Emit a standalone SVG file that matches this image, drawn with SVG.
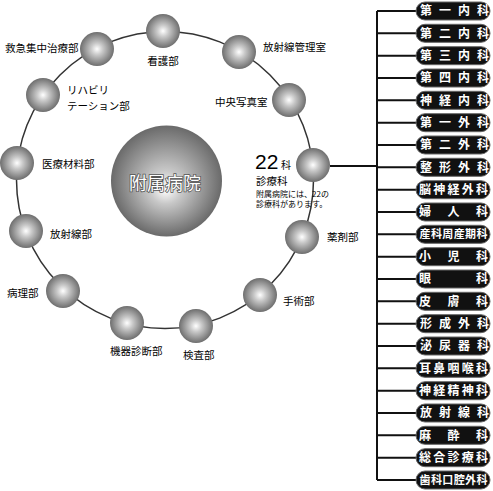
<svg xmlns="http://www.w3.org/2000/svg" width="493" height="491" viewBox="0 0 493 491">
<defs>
<radialGradient id="sph" cx="50%" cy="50%" r="50%" fx="50%" fy="50%">
<stop offset="0" stop-color="#ffffff"/>
<stop offset="0.35" stop-color="#c8c8c8"/>
<stop offset="1" stop-color="#6e6e6e"/>
</radialGradient>
<radialGradient id="big" cx="50%" cy="50%" r="50%" fx="49%" fy="58%">
<stop offset="0" stop-color="#ffffff"/>
<stop offset="0.3" stop-color="#c8c8c8"/>
<stop offset="1" stop-color="#6a6a6a"/>
</radialGradient>
</defs>
<style>
.lbl{font-family:"Noto Sans CJK JP","Liberation Sans",sans-serif;font-size:10.5px;fill:#000}
.sp{fill:url(#sph)}
.pill{fill:#111;stroke:#666;stroke-width:1}
.pt{font-family:"Noto Sans CJK JP","Liberation Sans",sans-serif;font-size:12px;font-weight:bold;fill:#fff;text-anchor:middle}
.pt6{font-size:11px}
.ln{stroke:#111;stroke-width:2;fill:none}
.ring{stroke:#333;stroke-width:1.5;fill:none}
</style>
<rect width="493" height="491" fill="#fff"/>
<g id="connectors">
<circle class="ring" cx="165" cy="180" r="148.5"/>
<line class="ln" x1="330" y1="166" x2="377" y2="166"/>
<line class="ln" x1="377" y1="11" x2="377" y2="480"/>
<path class="ln" d="M377 11H416M377 33.3H416M377 55.7H416M377 78H416M377 100.3H416M377 122.7H416M377 145H416M377 167.3H416M377 189.7H416M377 212H416M377 234.3H416M377 256.7H416M377 279H416M377 301.3H416M377 323.7H416M377 346H416M377 368.3H416M377 390.7H416M377 413H416M377 435.3H416M377 457.7H416M377 480H416"/>
</g>
<g id="hospital">
<circle cx="166.5" cy="181" r="55.5" fill="url(#big)"/>
<text x="165" y="189.5" text-anchor="middle" font-family="Noto Sans CJK JP, Liberation Sans, sans-serif" font-size="18" fill="#fff" stroke="#555" stroke-width="1.6" paint-order="stroke">附属病院</text>
</g>
<g id="n-kango"><circle class="sp" cx="163" cy="31" r="17"/><text class="lbl" x="163" y="65" text-anchor="middle">看護部</text></g>
<g id="n-kyukyu"><circle class="sp" cx="97" cy="49" r="17"/><text class="lbl" x="5" y="52">救急集中治療部</text></g>
<g id="n-reha"><circle class="sp" cx="43" cy="95" r="17"/><text class="lbl" x="67" y="94">リハビリ</text><text class="lbl" x="67" y="110">テーション部</text></g>
<g id="n-hoshakanri"><circle class="sp" cx="239" cy="52" r="17"/><text class="lbl" x="263" y="51">放射線管理室</text></g>
<g id="n-chuo"><circle class="sp" cx="289" cy="100" r="17"/><text class="lbl" x="215" y="106">中央写真室</text></g>
<g id="n-iryo"><circle class="sp" cx="17" cy="163" r="17"/><text class="lbl" x="42" y="168">医療材料部</text></g>
<g id="n-hosha"><circle class="sp" cx="26" cy="231" r="17"/><text class="lbl" x="50" y="238">放射線部</text></g>
<g id="n-22"><circle class="sp" cx="313" cy="165" r="17"/>
<text x="255" y="169" font-family="Liberation Sans, sans-serif" font-size="21" fill="#000">22</text>
<text class="lbl" x="281" y="169" style="font-size:10px">科</text>
<text class="lbl" x="256" y="185">診療科</text>
<text class="lbl" x="256" y="196.5" style="font-size:8px">附属病院には、22の</text>
<text class="lbl" x="256" y="206.5" style="font-size:8px">診療科があります。</text>
</g>
<g id="n-yakuzai"><circle class="sp" cx="302" cy="237" r="17"/><text class="lbl" x="327" y="241">薬剤部</text></g>
<g id="n-byori"><circle class="sp" cx="63" cy="291" r="17"/><text class="lbl" x="7" y="297">病理部</text></g>
<g id="n-kiki"><circle class="sp" cx="127" cy="323" r="17"/><text class="lbl" x="110" y="355">機器診断部</text></g>
<g id="n-shujutsu"><circle class="sp" cx="260" cy="295" r="17"/><text class="lbl" x="283" y="305">手術部</text></g>
<g id="n-kensa"><circle class="sp" cx="196" cy="326" r="17"/><text class="lbl" x="183" y="359">検査部</text></g>
<g id="d1"><rect class="pill" x="416" y="2" width="74" height="18" rx="9"/><text class="pt" x="426 445 464 483" y="15.3">第一内科</text></g>
<g id="d2"><rect class="pill" x="416" y="24.3" width="74" height="18" rx="9"/><text class="pt" x="426 445 464 483" y="37.6">第二内科</text></g>
<g id="d3"><rect class="pill" x="416" y="46.7" width="74" height="18" rx="9"/><text class="pt" x="426 445 464 483" y="60">第三内科</text></g>
<g id="d4"><rect class="pill" x="416" y="69" width="74" height="18" rx="9"/><text class="pt" x="426 445 464 483" y="82.3">第四内科</text></g>
<g id="d5"><rect class="pill" x="416" y="91.3" width="74" height="18" rx="9"/><text class="pt" x="426 445 464 483" y="104.6">神経内科</text></g>
<g id="d6"><rect class="pill" x="416" y="113.7" width="74" height="18" rx="9"/><text class="pt" x="426 445 464 483" y="127">第一外科</text></g>
<g id="d7"><rect class="pill" x="416" y="136" width="74" height="18" rx="9"/><text class="pt" x="426 445 464 483" y="149.3">第二外科</text></g>
<g id="d8"><rect class="pill" x="416" y="158.3" width="74" height="18" rx="9"/><text class="pt" x="426 445 464 483" y="171.6">整形外科</text></g>
<g id="d9"><rect class="pill" x="416" y="180.7" width="74" height="18" rx="9"/><text class="pt" x="425 439.25 453.5 467.75 482" y="194">脳神経外科</text></g>
<g id="d10"><rect class="pill" x="416" y="203" width="74" height="18" rx="9"/><text class="pt" x="425 453.5 482" y="216.3">婦人科</text></g>
<g id="d11"><rect class="pill" x="416" y="225.3" width="74" height="18" rx="9"/><text class="pt pt6" x="425 436.4 447.8 459.2 470.6 482" y="238.3">産科周産期科</text></g>
<g id="d12"><rect class="pill" x="416" y="247.7" width="74" height="18" rx="9"/><text class="pt" x="425 453.5 482" y="261">小児科</text></g>
<g id="d13"><rect class="pill" x="416" y="270" width="74" height="18" rx="9"/><text class="pt" x="425 482" y="283.3">眼科</text></g>
<g id="d14"><rect class="pill" x="416" y="292.3" width="74" height="18" rx="9"/><text class="pt" x="425 453.5 482" y="305.6">皮膚科</text></g>
<g id="d15"><rect class="pill" x="416" y="314.7" width="74" height="18" rx="9"/><text class="pt" x="426 445 464 483" y="328">形成外科</text></g>
<g id="d16"><rect class="pill" x="416" y="337" width="74" height="18" rx="9"/><text class="pt" x="426 445 464 483" y="350.3">泌尿器科</text></g>
<g id="d17"><rect class="pill" x="416" y="359.3" width="74" height="18" rx="9"/><text class="pt" x="425 439.25 453.5 467.75 482" y="372.6">耳鼻咽喉科</text></g>
<g id="d18"><rect class="pill" x="416" y="381.7" width="74" height="18" rx="9"/><text class="pt" x="425 439.25 453.5 467.75 482" y="395">神経精神科</text></g>
<g id="d19"><rect class="pill" x="416" y="404" width="74" height="18" rx="9"/><text class="pt" x="426 445 464 483" y="417.3">放射線科</text></g>
<g id="d20"><rect class="pill" x="416" y="426.3" width="74" height="18" rx="9"/><text class="pt" x="425 453.5 482" y="439.6">麻酔科</text></g>
<g id="d21"><rect class="pill" x="416" y="448.7" width="74" height="18" rx="9"/><text class="pt" x="425 439.25 453.5 467.75 482" y="462">総合診療科</text></g>
<g id="d22"><rect class="pill" x="416" y="471" width="74" height="18" rx="9"/><text class="pt pt6" x="425 436.4 447.8 459.2 470.6 482" y="484">歯科口腔外科</text></g>
</svg>
